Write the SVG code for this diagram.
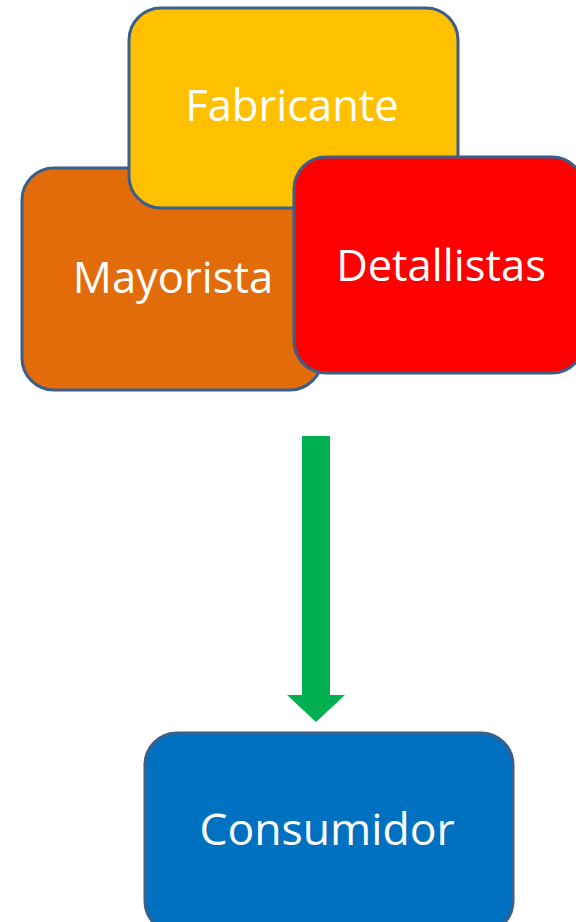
<svg xmlns="http://www.w3.org/2000/svg" width="576" height="922" viewBox="0 0 576 922">
<style>
.box{stroke:#3A5F8B;stroke-width:3}
.lbl{font-family:"Open Sans","Noto Sans",sans-serif;font-size:43.5px;fill:#ffffff;text-anchor:middle}
</style>
<rect width="576" height="922" fill="#ffffff"/>
<g id="mayorista">
<rect class="box" x="22" y="168" width="300" height="222" rx="32" fill="#E36C0A"/>
<text class="lbl" x="173" y="293">Mayorista</text>
</g>
<g id="fabricante">
<rect class="box" x="129" y="8" width="329" height="200" rx="32" fill="#FFC000"/>
<text class="lbl" x="292" y="121">Fabricante</text>
</g>
<g id="detallistas">
<rect class="box" x="294" y="157" width="290" height="216" rx="32" fill="#FF0000"/>
<text class="lbl" x="441" y="281">Detallistas</text>
</g>
<g id="connectors">
<polygon points="302,436 330,436 330,695 345,695 316,722 287,695 302,695" fill="#00B050"/>
</g>
<g id="consumidor">
<rect class="box" x="145" y="733" width="368" height="200" rx="32" fill="#0070C0"/>
<text class="lbl" x="327" y="845" style="font-size:44.5px">Consumidor</text>
</g>
</svg>
